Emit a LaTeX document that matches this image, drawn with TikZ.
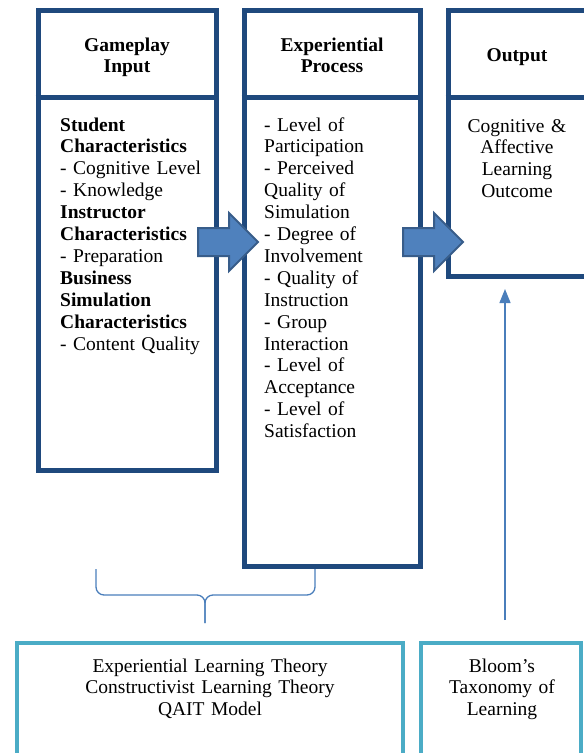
\documentclass[tikz,border=0pt]{standalone}
\usepackage{fontspec}
\setmainfont{Liberation Serif}
\usepackage{tikz}
\usetikzlibrary{arrows.meta,shapes.arrows,positioning}

\definecolor{boxblue}{HTML}{1F497D}
\definecolor{arrfill}{HTML}{4F81BD}
\definecolor{arrline}{HTML}{385D8A}
\definecolor{linkblue}{HTML}{4A7EBB}
\definecolor{theorycyan}{HTML}{4BACC6}

\begin{document}
\begin{tikzpicture}[x=1pt,y=-1pt,
  colbox/.style={rectangle, draw=boxblue, line width=5pt, inner sep=0pt},
  theorybox/.style={rectangle, draw=theorycyan, line width=4.5pt, inner sep=0pt},
  divline/.style={draw=boxblue, line width=5pt},
  blockarrow/.style={single arrow, draw=arrline, fill=arrfill, line width=2pt,
    inner xsep=0pt, inner ysep=13pt, minimum height=60pt,
    single arrow head extend=15pt, anchor=tail},
  txt/.style={font=\fontsize{19.5}{21.9}\selectfont, inner sep=0pt},
  hdr/.style={txt, font=\fontsize{19.5}{21.9}\selectfont\bfseries, text width=170pt,
    align=center, anchor=base},
  bodytxt/.style={txt, text width=155pt, align=left, anchor=base west},
  centtxt/.style={txt, text width=200pt, align=center, anchor=base},
  thinarrow/.style={draw=linkblue, line width=1.3pt, -{Triangle[length=14pt,width=11pt]}}]

  \useasboundingbox (0,0) rectangle (584,753);

  % the three columns
  \node[colbox, minimum width=178pt, minimum height=460pt] (Inp) at (127,240) {};
  \node[colbox, minimum width=176pt, minimum height=556pt] (Proc) at (332,288) {};
  \node[colbox, minimum width=172pt, minimum height=266pt] (Out) at (534,143) {};

  \draw[divline] ([yshift=-90pt]Inp.north west) -- ([yshift=-90pt]Inp.north east);
  \draw[divline] ([yshift=-90pt]Proc.north west) -- ([yshift=-90pt]Proc.north east);
  \draw[divline] ([yshift=-90pt]Out.north west) -- ([yshift=-90pt]Out.north east);

  \node[hdr] (InpHdr) at (127,51) {Gameplay\\Input};
  \node[hdr] (ProcHdr) at (332,51) {Experiential\\Process};
  \node[hdr, text width=130pt] (OutHdr) at (517,61) {Output};

  \node[bodytxt] (InpTxt) at (60,131) {\textbf{Student}\\ \textbf{Characteristics}\\
    - Cognitive Level\\ - Knowledge\\ \textbf{Instructor}\\ \textbf{Characteristics}\\
    - Preparation\\ \textbf{Business}\\ \textbf{Simulation}\\ \textbf{Characteristics}\\
    - Content Quality};
  \node[bodytxt] (ProcTxt) at (264,131) {- Level of\\ Participation\\ - Perceived\\
    Quality of\\ Simulation\\ - Degree of\\ Involvement\\ - Quality of\\ Instruction\\
    - Group\\ Interaction\\ - Level of\\ Acceptance\\ - Level of\\ Satisfaction};
  \node[centtxt, text width=140pt] (OutTxt) at (517,132) {Cognitive \&\\ Affective\\
    Learning\\ Outcome};

  % block arrows between columns
  \node[blockarrow] (A1) at (197,242) {};
  \node[blockarrow] (A2) at (402,242) {};

  % theory boxes
  \node[theorybox, minimum width=386pt, minimum height=112pt] (Theory) at (210,699) {};
  \node[theorybox, minimum width=160pt, minimum height=112pt] (Bloom) at (501,699) {};

  \node[centtxt, text width=380pt] (TheoryTxt) at (210,672) {Experiential Learning Theory\\
    Constructivist Learning Theory\\ QAIT Model};
  \node[centtxt, text width=150pt] (BloomTxt) at (502,672) {Bloom’s\\ Taxonomy of\\ Learning};

  % brace over input and process
  \draw[linkblue, line width=1.3pt, rounded corners=8pt]
    (96,569) -- (96,595) -- (205,595) -- (205,623);
  \draw[linkblue, line width=1.3pt, rounded corners=8pt]
    (315,569) -- (315,595) -- (205,595) -- (205,623);

  \coordinate (BloomTop) at (505,620);
  \coordinate (OutLow) at (505,289);
  \draw[thinarrow] (BloomTop) -- (OutLow);

\end{tikzpicture}
\end{document}
